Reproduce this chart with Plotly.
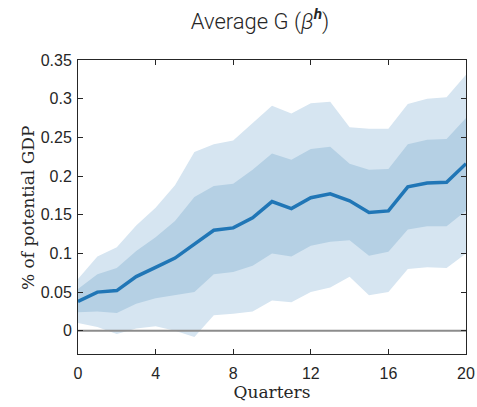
import plotly.graph_objects as go

quarters = list(range(21))
mean_g = [0.038, 0.050, 0.052, 0.070, 0.082, 0.094, 0.112, 0.130, 0.133, 0.146, 0.167,
          0.158, 0.172, 0.177, 0.168, 0.153, 0.155, 0.186, 0.191, 0.192, 0.216]
inner_upper = [0.054, 0.073, 0.081, 0.103, 0.121, 0.142, 0.173, 0.187, 0.190, 0.208, 0.229,
               0.221, 0.235, 0.238, 0.216, 0.208, 0.209, 0.241, 0.247, 0.248, 0.275]
inner_lower = [0.024, 0.025, 0.023, 0.035, 0.042, 0.046, 0.050, 0.073, 0.076, 0.084, 0.100,
               0.096, 0.110, 0.115, 0.117, 0.097, 0.102, 0.131, 0.135, 0.135, 0.155]
outer_upper = [0.067, 0.096, 0.108, 0.136, 0.159, 0.188, 0.231, 0.241, 0.246, 0.268, 0.291,
               0.281, 0.294, 0.296, 0.263, 0.261, 0.261, 0.293, 0.300, 0.302, 0.331]
outer_lower = [0.010, 0.005, -0.004, 0.003, 0.006, 0.000, -0.008, 0.020, 0.022, 0.025, 0.039,
               0.037, 0.050, 0.056, 0.070, 0.046, 0.050, 0.080, 0.082, 0.081, 0.100]

y_ticks = [0, 0.05, 0.1, 0.15, 0.2, 0.25, 0.3, 0.35]
y_tick_labels = ["0", "0.05", "0.1", "0.15", "0.2", "0.25", "0.3", "0.35"]
x_ticks = [0, 4, 8, 12, 16, 20]

light = "rgb(214,229,241)"
dark = "rgb(181,208,228)"
line_c = "rgb(32,118,182)"
ink = "rgb(38,38,38)"

W, H = 477, 407
L, R, T, B = 78, 11, 60, 53

fig = go.Figure()
fig.add_trace(go.Scatter(x=quarters, y=outer_lower, mode="lines", line=dict(width=0, color=light),
                         showlegend=False, hoverinfo="skip"))
fig.add_trace(go.Scatter(x=quarters, y=outer_upper, mode="lines", line=dict(width=0, color=light),
                         fill="tonexty", fillcolor=light, showlegend=False, hoverinfo="skip"))
fig.add_trace(go.Scatter(x=quarters, y=inner_lower, mode="lines", line=dict(width=0, color=dark),
                         showlegend=False, hoverinfo="skip"))
fig.add_trace(go.Scatter(x=quarters, y=inner_upper, mode="lines", line=dict(width=0, color=dark),
                         fill="tonexty", fillcolor=dark, showlegend=False, hoverinfo="skip"))
fig.add_trace(go.Scatter(x=[quarters[0], quarters[-1]], y=[0, 0], mode="lines",
                         line=dict(width=2, color="rgb(140,140,140)"), showlegend=False))
fig.add_trace(go.Scatter(x=quarters, y=mean_g, mode="lines", line=dict(width=3.5, color=line_c),
                         showlegend=False))

axis_common = dict(showline=True, linecolor=ink, linewidth=1, mirror="ticks",
                   ticks="inside", ticklen=5, tickcolor=ink, showgrid=False, automargin=False,
                   zeroline=False, tickfont=dict(family="Liberation Sans", size=16, color=ink))

plot_w = W - L - R
plot_h = H - T - B
fig.update_layout(
    width=W, height=H,
    margin=dict(l=L, r=R, t=T, b=B),
    plot_bgcolor="white", paper_bgcolor="white",
    title=dict(text="Average G (<i>β</i><sup><b><i>h</i></b></sup>)", x=260 / W, xanchor="center",
               y=1 - 21 / H, yanchor="middle", automargin=False,
               font=dict(family="Roboto", size=22, color=ink, weight=300)),
    xaxis=dict(range=[0, 20], tickvals=x_ticks, ticktext=[str(v) for v in x_ticks],
               ticklabelstandoff=5,
               title=dict(text="Quarters", standoff=4,
                          font=dict(family="DejaVu Serif", size=17, color=ink)),
               **axis_common),
    yaxis=dict(range=[-0.03, 0.35], tickvals=y_ticks, ticktext=y_tick_labels,
               ticklabelstandoff=2, **axis_common),
    annotations=[dict(text="% of potential GDP", textangle=-90, xref="paper", yref="paper",
                      x=(28 - L) / plot_w, y=(H - B - 208) / plot_h, xanchor="center", yanchor="middle",
                      showarrow=False,
                      font=dict(family="DejaVu Serif", size=17, color=ink))],
)

fig.write_html("out.html", post_script="document.body.style.margin='0';",
               config={"displayModeBar": False})
